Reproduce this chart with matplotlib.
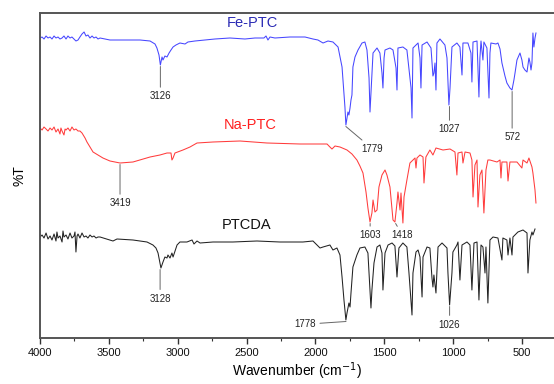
import numpy as np
import matplotlib
matplotlib.use("Agg")
import matplotlib.pyplot as plt
from matplotlib.ticker import MultipleLocator

plt.rcParams['font.family'] = ['Liberation Sans', 'DejaVu Sans']

# FTIR spectra: wavenumber (cm-1) and %T (arbitrary offset units)
fe_wn = [4000, 3985, 3971, 3956, 3942, 3927, 3913, 3898, 3884, 3869, 3855, 3840, 3826, 3811,
         3797, 3782, 3768, 3753, 3739, 3724, 3710, 3695, 3680, 3666, 3652, 3637, 3622, 3608,
         3593, 3579, 3564, 3528, 3492, 3419, 3347, 3274, 3201, 3165, 3151, 3136, 3126, 3114,
         3107, 3093, 3078, 3063, 3049, 3034, 3013, 2984, 2947, 2926, 2875, 2802, 2730, 2621,
         2512, 2439, 2374, 2359, 2345, 2330, 2294, 2185, 2076, 2018, 1982, 1945, 1909, 1873,
         1836, 1807, 1793, 1786, 1779, 1771, 1764, 1757, 1749, 1742, 1735, 1728, 1713, 1691,
         1662, 1641, 1626, 1611, 1604, 1597, 1582, 1553, 1532, 1517, 1510, 1502, 1495, 1459,
         1437, 1415, 1408, 1401, 1365, 1336, 1306, 1299, 1292, 1255, 1241, 1234, 1226, 1190,
         1161, 1147, 1140, 1132, 1125, 1118, 1096, 1060, 1045, 1031, 1023, 1009, 973, 951,
         936, 929, 893, 871, 864, 856, 827, 813, 806, 798, 784, 777, 755, 740, 733, 726,
         689, 675, 660, 646, 624, 610, 588, 573, 559, 551, 537, 515, 501, 493, 479, 464,
         450, 443, 435, 428, 421, 414, 406, 399]
fe_t = [300, 301, 299, 302, 300, 301, 299, 302, 300, 301, 299, 300, 302, 299,
        302, 300, 301, 299, 297, 298, 301, 304, 306, 302, 303, 300, 302, 300,
        301, 299, 300, 299, 298, 298, 298, 298, 297, 294, 290, 283, 273, 281,
        278, 282, 281, 285, 288, 291, 293, 295, 294, 296, 297, 298, 299, 300,
        299, 300, 300, 302, 298, 301, 300, 301, 301, 299, 298, 295, 297, 296,
        291, 271, 245, 231, 213, 220, 226, 223, 230, 238, 243, 271, 281, 288,
        295, 296, 288, 260, 226, 245, 285, 290, 285, 265, 250, 280, 288, 290,
        288, 270, 248, 290, 291, 288, 250, 220, 290, 295, 280, 250, 293, 296,
        290, 262, 265, 275, 248, 295, 299, 293, 280, 233, 250, 291, 295, 291,
        263, 295, 295, 285, 256, 296, 297, 241, 280, 297, 278, 296, 290, 240, 285, 295,
        294, 295, 289, 275, 262, 255, 250, 248, 258, 265, 278, 285, 278, 271, 268, 266,
        280, 276, 268, 275, 305, 291, 300, 305]

na_wn = [4000, 3985, 3971, 3956, 3942, 3927, 3913, 3898, 3884, 3869, 3855, 3848, 3840, 3826,
         3818, 3811, 3797, 3782, 3768, 3753, 3739, 3724, 3710, 3695, 3673, 3659, 3637, 3615,
         3579, 3543, 3492, 3419, 3325, 3201, 3129, 3078, 3049, 3042, 3034, 3020, 2962, 2911,
         2860, 2744, 2548, 2352, 2112, 1916, 1895, 1880, 1858, 1822, 1771, 1735, 1699, 1677,
         1655, 1633, 1619, 1604, 1590, 1582, 1568, 1553, 1539, 1517, 1495, 1481, 1459, 1437,
         1423, 1408, 1401, 1386, 1379, 1365, 1357, 1336, 1314, 1277, 1270, 1263, 1241, 1219,
         1212, 1198, 1169, 1147, 1125, 1074, 1023, 987, 973, 965, 936, 929, 914, 878, 864,
         856, 842, 827, 820, 806, 791, 777, 762, 748, 733, 682, 660, 653, 646, 610, 602, 588,
         537, 501, 493, 464, 450, 428, 421, 406, 399]
na_t = [210, 208, 211, 209, 207, 210, 208, 211, 206, 209, 204, 210, 207, 203,
        209, 208, 210, 207, 211, 208, 209, 207, 207, 205, 200, 196, 191, 186,
        183, 180, 177, 175, 176, 181, 183, 185, 185, 178, 180, 185, 188, 191,
        195, 196, 197, 195, 194, 194, 191, 189, 192, 191, 188, 184, 178, 172,
        165, 146, 130, 116, 125, 138, 126, 128, 151, 163, 168, 163, 151, 118,
        116, 135, 146, 128, 145, 115, 141, 158, 175, 180, 170, 180, 183, 181,
        155, 181, 188, 183, 190, 188, 189, 186, 163, 185, 186, 175, 186, 185, 178,
        141, 173, 178, 131, 163, 168, 125, 168, 178, 178, 176, 178, 160, 176, 176, 157, 176,
        176, 170, 178, 175, 180, 171, 165, 148, 135]

ptcda_wn = [4000, 3985, 3971, 3956, 3942, 3927, 3913, 3898, 3884, 3877, 3869, 3855, 3840, 3833,
            3826, 3811, 3797, 3782, 3768, 3753, 3746, 3739, 3731, 3724, 3710, 3695, 3680, 3666,
            3652, 3637, 3622, 3608, 3593, 3579, 3564, 3470, 3441, 3325, 3223, 3180, 3158, 3143,
            3122, 3107, 3093, 3078, 3071, 3056, 3042, 3034, 3005, 2984, 2933, 2896, 2882, 2860,
            2838, 2744, 2599, 2425, 2258, 2091, 2018, 1967, 1945, 1895, 1873, 1844, 1822, 1807,
            1793, 1779, 1771, 1757, 1749, 1742, 1728, 1699, 1677, 1641, 1619, 1597, 1590, 1575,
            1553, 1532, 1517, 1510, 1495, 1473, 1444, 1423, 1408, 1394, 1365, 1336, 1321, 1299,
            1292, 1270, 1255, 1241, 1226, 1219, 1190, 1169, 1154, 1147, 1140, 1125, 1110, 1081,
            1045, 1038, 1026, 1009, 1002, 973, 965, 951, 936, 900, 878, 864, 849, 827, 813, 798,
            784, 769, 762, 748, 733, 711, 675, 646, 639, 610, 602, 588, 573, 566, 530, 493, 464,
            457, 443, 428, 421, 406]
ptcda_t = [101, 103, 100, 105, 99, 102, 98, 104, 97, 106, 100, 102, 96, 107,
           101, 103, 99, 105, 100, 102, 106, 86, 102, 104, 100, 105, 101, 102,
           100, 103, 101, 102, 100, 101, 101, 97, 99, 98, 96, 93, 90, 85,
           70, 76, 81, 80, 83, 80, 85, 81, 93, 96, 96, 98, 94, 97,
           95, 96, 96, 97, 96, 96, 97, 90, 91, 93, 88, 90, 83, 61,
           38, 18, 25, 35, 31, 45, 71, 83, 90, 91, 85, 30, 48, 75,
           91, 93, 85, 48, 85, 93, 95, 92, 61, 90, 95, 91, 65, 23,
           65, 86, 88, 81, 41, 81, 91, 90, 60, 51, 63, 45, 91, 95,
           90, 65, 33, 65, 86, 93, 96, 58, 93, 96, 93, 48, 95, 96, 38, 93,
           91, 65, 91, 35, 98, 101, 100, 78, 100, 98, 83, 100, 83, 101, 106, 108, 105,
           65, 98, 106, 103, 109]

# peak labels (cm-1) per spectrum
fe_peaks = [3126, 1779, 1027, 572]
na_peaks = [3419, 1603, 1418]
ptcda_peaks = [3128, 1778, 1026]

fig = plt.figure(figsize=(5.54, 3.84), dpi=100)
ax = fig.add_axes([40 / 554, 46 / 384, 514 / 554, 325 / 384])

ax.plot(fe_wn, fe_t, color='#4646ff', lw=0.75)
ax.plot(na_wn, na_t, color='#ff3c3c', lw=0.75)
ax.plot(ptcda_wn, ptcda_t, color='#222222', lw=0.75)

ax.set_xlim(4000, 268)
ax.set_ylim(0, 325)


def peak_point(wn, t, p):
    wn = np.array(wn)
    t = np.array(t)
    near = np.abs(wn - p) <= 10
    return p, t[near].min()


# label offsets in points (dx, dy)
offsets = {
    ('fe', 3126): (0, -21.5), ('fe', 1779): (19, -16), ('fe', 1027): (0, -16.5),
    ('fe', 572): (0, -33),
    ('na', 3419): (0, -28), ('na', 1603): (0, -8.5), ('na', 1418): (5, -8.5),
    ('pt', 3128): (0, -21), ('pt', 1778): (-29.5, -2), ('pt', 1026): (0, -13),
}
series = [('fe', fe_wn, fe_t, fe_peaks), ('na', na_wn, na_t, na_peaks),
          ('pt', ptcda_wn, ptcda_t, ptcda_peaks)]
for key, wn, t, peaks in series:
    for p in peaks:
        x0, y0 = peak_point(wn, t, p)
        dx, dy = offsets[(key, p)]
        ax.annotate(str(p), xy=(x0, y0 - 1.5), xytext=(dx, dy), textcoords='offset points',
                    ha='center', va='center', fontsize=7, color='#222222',
                    arrowprops=dict(arrowstyle='-', color='#666666', lw=0.7,
                                    shrinkA=1, shrinkB=0))

ax.text(2461, 315, 'Fe-PTC', color='#2a2ab4', fontsize=10.5, ha='center', va='center')
ax.text(2475, 213, 'Na-PTC', color='#ff2020', fontsize=10.5, ha='center', va='center')
ax.text(2497, 113, 'PTCDA', color='#111111', fontsize=10.5, ha='center', va='center')

ax.xaxis.set_major_locator(MultipleLocator(500))
ax.xaxis.set_minor_locator(MultipleLocator(250))
ax.tick_params(axis='x', which='major', direction='out', length=4, width=1, labelsize=8,
               colors='#333333', labelcolor='#111111', pad=3)
ax.tick_params(axis='x', which='minor', direction='out', length=2.5, width=0.8, colors='#333333')
ax.set_yticks([])
for side in ['left', 'top', 'bottom']:
    ax.spines[side].set_linewidth(1.4)
    ax.spines[side].set_color('#555555')
ax.spines['right'].set_visible(False)

ax.set_xlabel('Wavenumber (cm$^{-1}$)', fontsize=10, labelpad=2)
ax.set_ylabel('%T', fontsize=10, labelpad=10)

fig.savefig('out.png', dpi=100)
